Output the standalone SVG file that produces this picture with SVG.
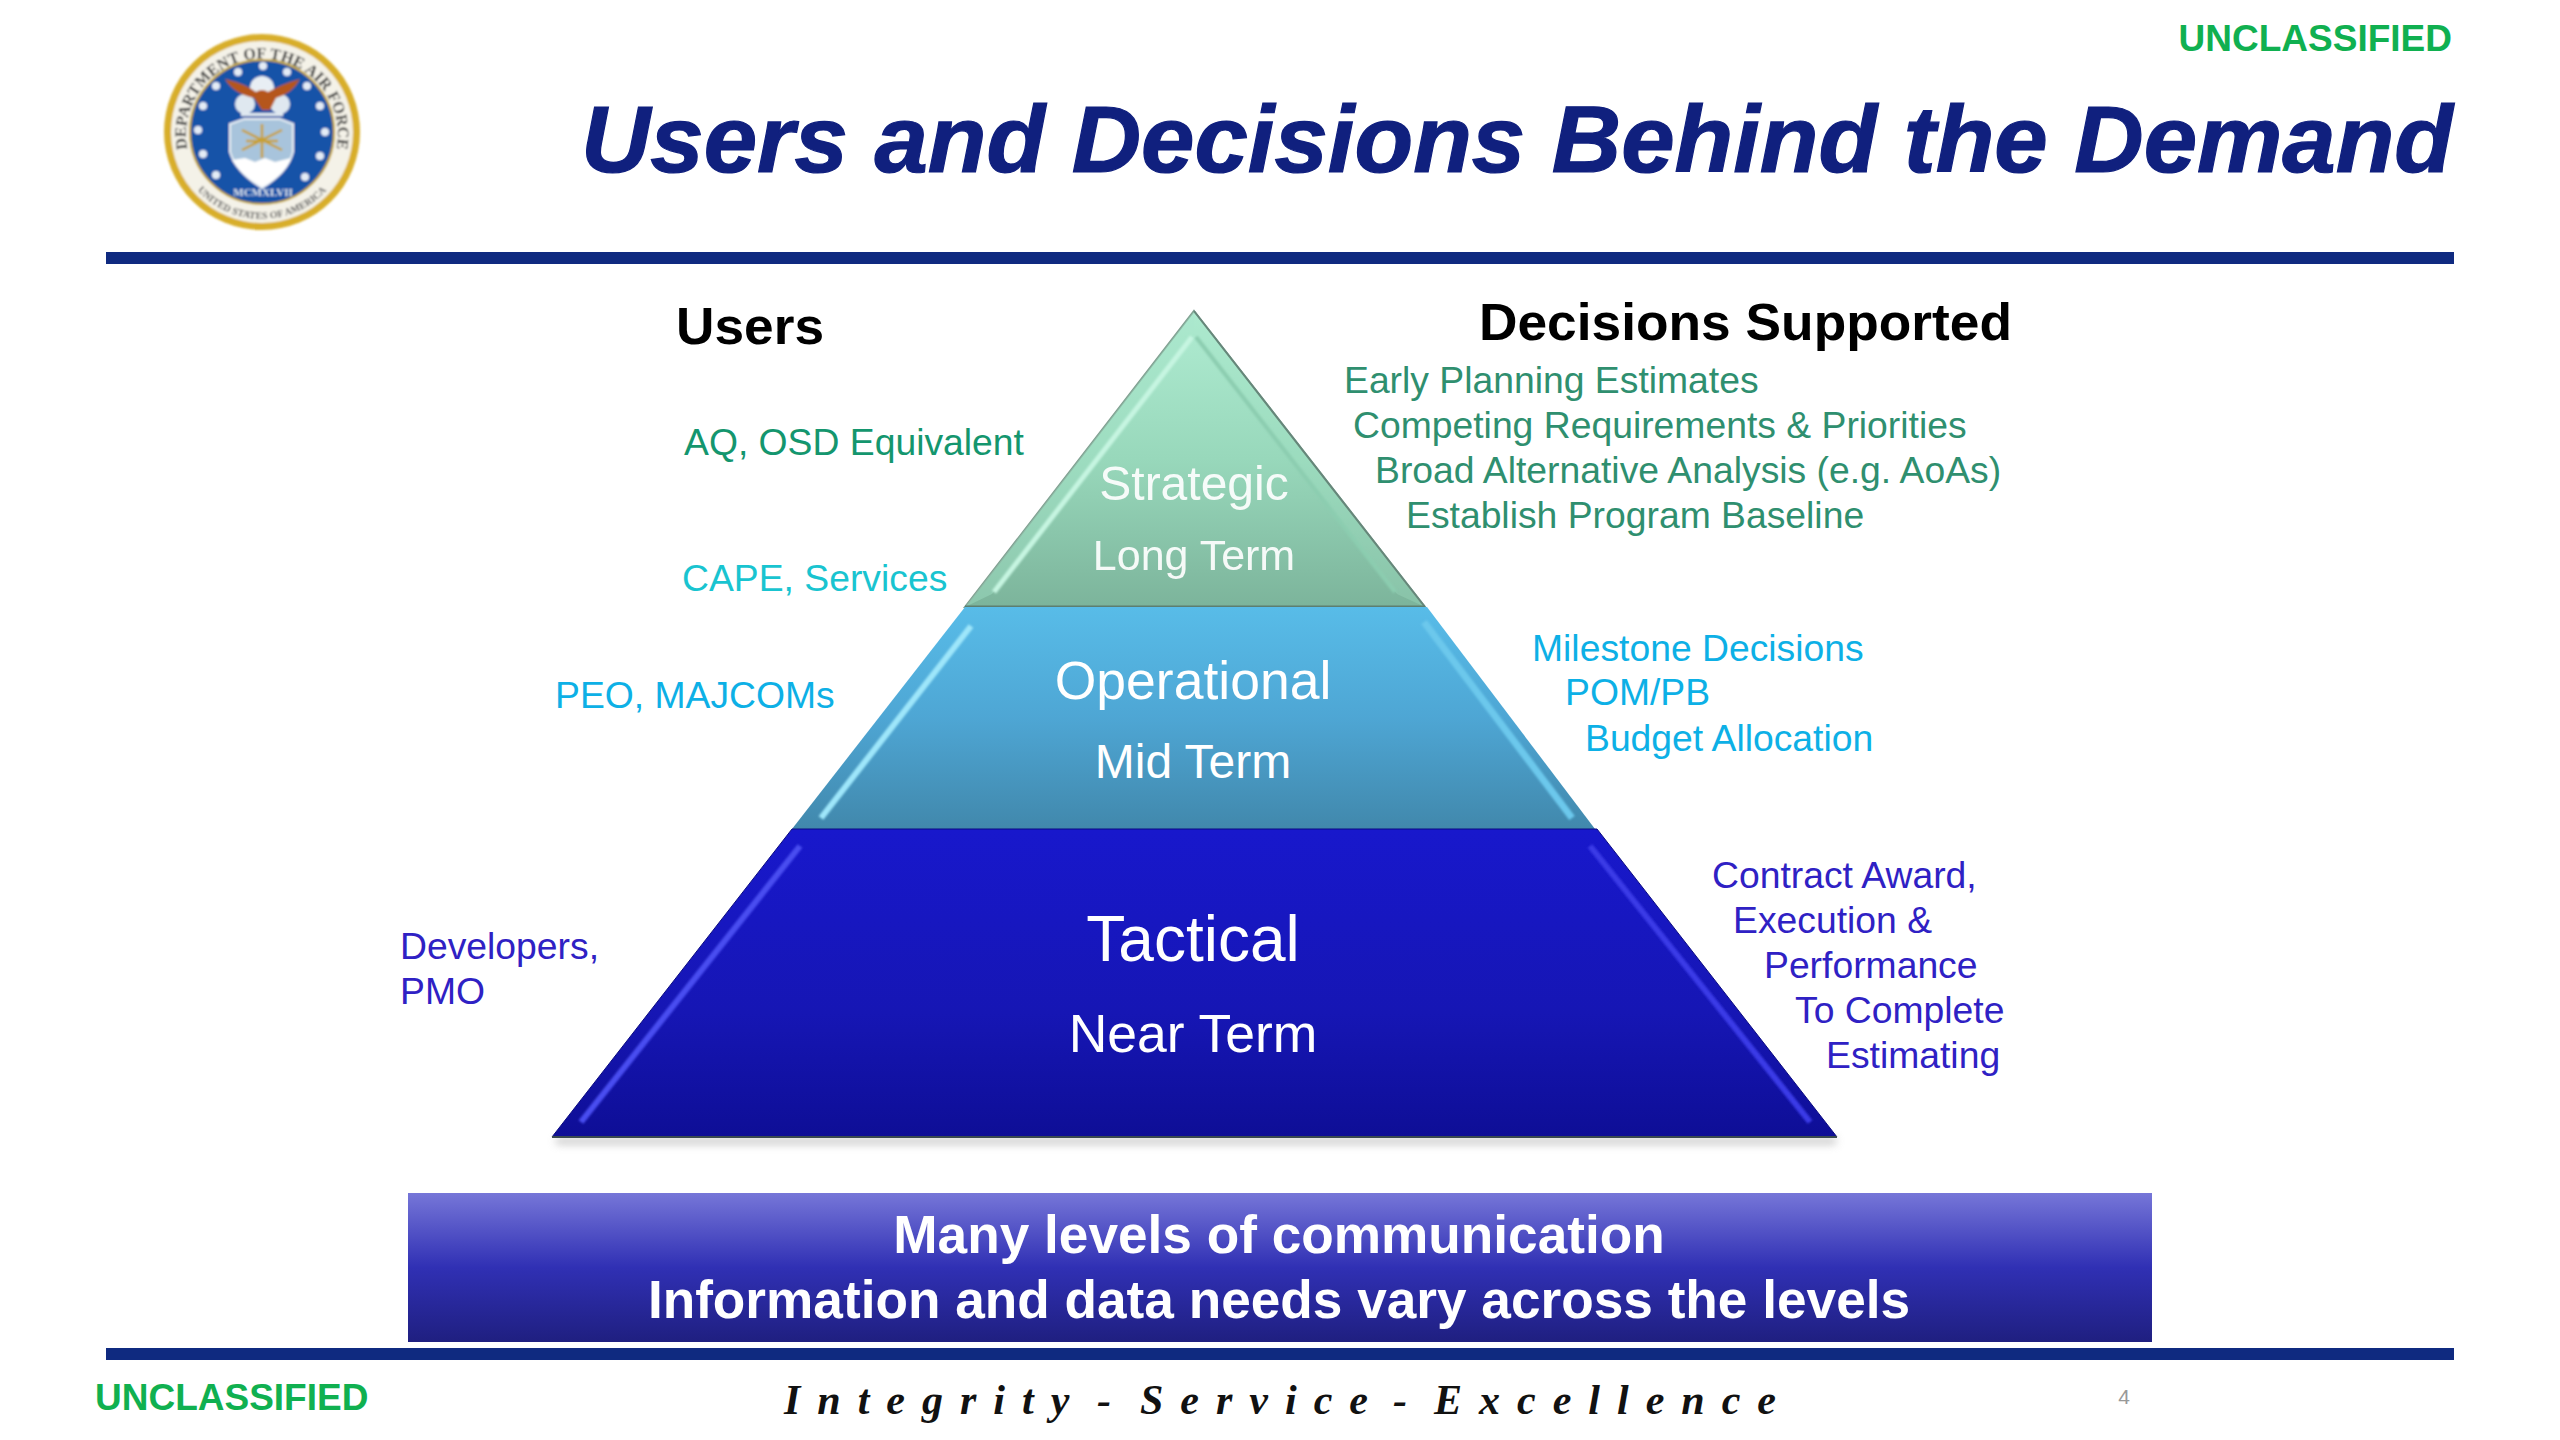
<svg xmlns="http://www.w3.org/2000/svg" width="2560" height="1440" viewBox="0 0 2560 1440">
<style>
text{font-family:"Liberation Sans",Arial,sans-serif}
.b{font-weight:bold}
.g1{fill:#14966e;font-size:37.3px}
.g2{fill:#2f8f6f;font-size:37.3px}
.c{fill:#19c4d0;font-size:37.3px}
.s{fill:#0db0e6;font-size:37.3px}
.t{fill:#2f21c4;font-size:37.3px}
.w{fill:#fff;text-anchor:middle}
.rule{fill:#0f2a80}
.un{fill:#10b050;font-weight:bold;font-size:37px}
.hd{fill:#000;font-weight:bold;font-size:52px}
</style>
<defs>
<linearGradient id="gs" x1="0" y1="0" x2="0" y2="1"><stop offset="0" stop-color="#b0ecd2"/><stop offset=".5" stop-color="#98d8bb"/><stop offset="1" stop-color="#7cb49b"/></linearGradient>
<linearGradient id="go" x1="0" y1="0" x2="0" y2="1"><stop offset="0" stop-color="#58bce8"/><stop offset=".5" stop-color="#4ea6d4"/><stop offset="1" stop-color="#4188ac"/></linearGradient>
<linearGradient id="gt" x1="0" y1="0" x2="0" y2="1"><stop offset="0" stop-color="#1818cc"/><stop offset=".6" stop-color="#1616b4"/><stop offset="1" stop-color="#0e0e96"/></linearGradient>
<linearGradient id="gb" x1="0" y1="0" x2="0" y2="1"><stop offset="0" stop-color="#7676d8"/><stop offset=".5" stop-color="#3030b4"/><stop offset="1" stop-color="#1f1f80"/></linearGradient>
<filter id="blur" x="-10%" y="-10%" width="120%" height="120%"><feGaussianBlur stdDeviation="0.8"/></filter>
<filter id="soft" x="-10%" y="-10%" width="120%" height="120%"><feGaussianBlur stdDeviation="1.2"/></filter>
<filter id="shadow" x="-5%" y="-200%" width="110%" height="500%"><feGaussianBlur stdDeviation="4"/></filter>
<path id="arcTop" d="M190.4 160 A76 76 0 1 1 333.6 160"/>
<path id="arcBot" d="M187.6 177 A87 87 0 0 0 336.4 177"/>
</defs>
<rect width="2560" height="1440" fill="#fff"/>

<g id="seal" filter="url(#blur)">
<circle cx="262" cy="132" r="98" fill="#d8ae2a"/>
<circle cx="262" cy="132" r="91" fill="#f4f2e8"/>
<circle cx="262" cy="132" r="72" fill="#1753a8" stroke="#c8a62a" stroke-width="2"/>
<text font-size="16" fill="#333" font-weight="bold" style="font-family:'Liberation Serif',serif"><textPath href="#arcTop" startOffset="50%" text-anchor="middle">DEPARTMENT OF THE AIR FORCE</textPath></text>
<text font-size="10" fill="#555" font-weight="bold" style="font-family:'Liberation Serif',serif"><textPath href="#arcBot" startOffset="50%" text-anchor="middle">UNITED STATES OF AMERICA</textPath></text>
<g fill="#e4ecf6">
<circle cx="263" cy="66" r="4"/><circle cx="238" cy="72" r="4"/><circle cx="287" cy="72" r="4"/><circle cx="216" cy="86" r="4"/><circle cx="307" cy="86" r="4"/><circle cx="203" cy="106" r="4"/><circle cx="320" cy="106" r="4"/><circle cx="198" cy="130" r="4"/><circle cx="325" cy="132" r="4"/><circle cx="203" cy="154" r="4"/><circle cx="320" cy="156" r="4"/><circle cx="216" cy="175" r="4"/><circle cx="305" cy="177" r="4"/>
</g>
<circle cx="262" cy="88" r="12" fill="#e8eef4"/>
<ellipse cx="245" cy="104" rx="10" ry="10" fill="#dfe8f0"/><ellipse cx="280" cy="104" rx="10" ry="10" fill="#dfe8f0"/>
<path d="M225 79 Q246 84 256 92 Q262 88 268 92 Q282 84 300 79 Q292 94 276 98 L270 110 L262 110 L254 98 Q234 94 225 79Z" fill="#b5561e"/>
<rect x="241" y="113" width="42" height="3" fill="#dfe8f0"/>
<path d="M244 119 L280 119 L293 124 L293 152 Q288 172 262 188 Q236 172 230 152 L230 124Z" fill="#a8c4dc" stroke="#e8eef4" stroke-width="2"/>
<path d="M232 160 L245 158 L255 162 L265 158 L275 162 L291 158 Q286 174 262 187 Q240 174 232 160Z" fill="#fff"/>
<path d="M262 124 V158M242 130 L282 150M282 130 L242 150M246 141 H278" fill="none" stroke="#c8a030" stroke-width="2.5"/>
<text x="263" y="196" font-size="11" fill="#dfe6ef" text-anchor="middle" font-weight="bold" style="font-family:'Liberation Serif',serif">MCMXLVII</text>
</g>

<g id="header">
<text x="2452" y="51" class="un" text-anchor="end">UNCLASSIFIED</text>
<text x="2453" y="172" class="b" font-style="italic" font-size="95" fill="#10207e" stroke="#10207e" stroke-width="1.2" text-anchor="end" textLength="1872" lengthAdjust="spacingAndGlyphs">Users and Decisions Behind the Demand</text>
<rect class="rule" x="106" y="252" width="2348" height="12"/>
</g>

<g id="col-heads">
<text x="676" y="344" class="hd" textLength="148" lengthAdjust="spacingAndGlyphs">Users</text>
<text x="1479" y="340" class="hd" textLength="533" lengthAdjust="spacingAndGlyphs">Decisions Supported</text>
</g>

<g id="shadow-base"><rect x="556" y="1138" width="1280" height="6" fill="#999" opacity=".6" filter="url(#shadow)"/></g>

<g id="node-strategic">
<path d="M1194 311 L1425 607 H965Z" fill="url(#gs)" stroke="#7f9f90" stroke-width="2"/>
<path d="M1194 311 L965 607 L992 594 L1194 335Z" fill="#a6e4c8" opacity=".4"/>
<path d="M1194 311 L1425 607 L1397 594 L1194 335Z" fill="#a6e4c8" opacity=".3"/>
<path d="M1192 337 L994 592" stroke="#c6f5e1" stroke-width="5" fill="none" filter="url(#soft)"/>
<path d="M1196 337 L1395 592" stroke="#8ccdb0" stroke-width="4" fill="none" filter="url(#soft)"/>
<path d="M1194 311 L1425 607" stroke="#66877a" stroke-width="2" fill="none"/>
<path d="M965 607 H1425" stroke="#5c7f70" stroke-width="3"/>
<text x="1194" y="500" class="w" font-size="48" opacity=".92">Strategic</text>
<text x="1194" y="570" class="w" font-size="43" opacity=".92">Long Term</text>
</g>

<g id="node-operational">
<path d="M965 607 H1427 L1595 829 H792Z" fill="url(#go)"/>
<path d="M971 626 L821 818" stroke="#9ee6fa" stroke-width="6" fill="none" filter="url(#soft)"/>
<path d="M1424 622 L1572 818" stroke="#6cc8ec" stroke-width="7" fill="none" filter="url(#soft)"/>
<text x="1193" y="699" class="w" font-size="53.5">Operational</text>
<text x="1193" y="778" class="w" font-size="48">Mid Term</text>
</g>

<g id="node-tactical">
<path d="M792 829 H1597 L1837 1137 H552Z" fill="url(#gt)" stroke="#0a0a80" stroke-width="1"/>
<path d="M800 846 L581 1122" stroke="#4a4ef0" stroke-width="6" fill="none" filter="url(#soft)"/>
<path d="M1590 846 L1810 1122" stroke="#3a3ae6" stroke-width="6" fill="none" filter="url(#soft)"/>
<path d="M552 1137 H1837" stroke="#3a4a50" stroke-width="2"/>
<text x="1193" y="961" class="w" font-size="64">Tactical</text>
<text x="1193" y="1052" class="w" font-size="53.5">Near Term</text>
</g>

<g id="users-labels">
<text x="684" y="455" class="g1">AQ, OSD Equivalent</text>
<text x="682" y="591" class="c">CAPE, Services</text>
<text x="555" y="708" class="s">PEO, MAJCOMs</text>
<text x="400" y="959" class="t">Developers,</text>
<text x="400" y="1004" class="t">PMO</text>
</g>

<g id="decisions-strategic">
<text x="1344" y="393" class="g2">Early Planning Estimates</text>
<text x="1353" y="438" class="g2">Competing Requirements &amp; Priorities</text>
<text x="1375" y="483" class="g2">Broad Alternative Analysis (e.g. AoAs)</text>
<text x="1406" y="528" class="g2">Establish Program Baseline</text>
</g>
<g id="decisions-operational">
<text x="1532" y="661" class="s">Milestone Decisions</text>
<text x="1565" y="705" class="s">POM/PB</text>
<text x="1585" y="751" class="s">Budget Allocation</text>
</g>
<g id="decisions-tactical">
<text x="1712" y="888" class="t">Contract Award,</text>
<text x="1733" y="933" class="t">Execution &amp;</text>
<text x="1764" y="978" class="t">Performance</text>
<text x="1795" y="1023" class="t">To Complete</text>
<text x="1826" y="1068" class="t">Estimating</text>
</g>

<g id="banner">
<rect x="408" y="1193" width="1744" height="149" fill="url(#gb)"/>
<text x="1279" y="1253" class="w b" font-size="53.2">Many levels of communication</text>
<text x="1279" y="1318" class="w b" font-size="53.2">Information and data needs vary across the levels</text>
</g>

<g id="footer">
<rect class="rule" x="106" y="1348" width="2348" height="12"/>
<text x="95" y="1410" class="un">UNCLASSIFIED</text>
<text y="1414" font-size="42" font-weight="bold" font-style="italic" fill="#111" letter-spacing="17" style="font-family:'Liberation Serif',serif"><tspan x="784">Integrity </tspan><tspan x="1097">- </tspan><tspan x="1140">Service </tspan><tspan x="1393">- </tspan><tspan x="1434">Excellence</tspan></text>
<text x="2124" y="1404" font-size="21" fill="#999" text-anchor="middle">4</text>
</g>
</svg>
